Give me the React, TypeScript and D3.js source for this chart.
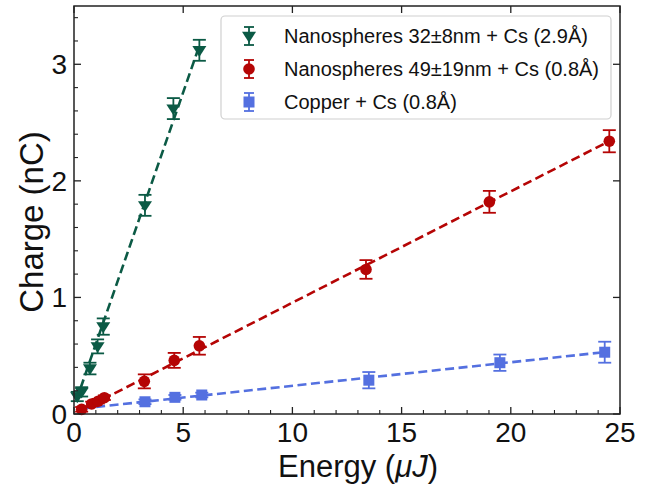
import React from "react";
import * as d3 from "d3";

const W = 667;
const H = 486;

// Series data (Energy µJ, Charge nC, error nC)
const greenX = [0.15, 0.35, 0.73, 1.08, 1.34, 3.25, 4.55, 5.74];
const greenY = [0.15, 0.19, 0.39, 0.58, 0.75, 1.79, 2.62, 3.12];
const greenE = [0.04, 0.04, 0.05, 0.06, 0.07, 0.09, 0.09, 0.09];

const redX = [0.35, 0.81, 1.11, 1.39, 3.22, 4.59, 5.74, 13.37, 19.02, 24.51];
const redY = [0.04, 0.086, 0.11, 0.14, 0.28, 0.46, 0.585, 1.24, 1.82, 2.34];
const redE = [0.02, 0.02, 0.02, 0.02, 0.06, 0.064, 0.076, 0.08, 0.094, 0.095];

const blueX = [3.25, 4.62, 5.85, 13.5, 19.5, 24.3];
const blueY = [0.105, 0.143, 0.163, 0.29, 0.44, 0.53];
const blueE = [0.02, 0.02, 0.02, 0.07, 0.07, 0.09];

// Linear fits: [slope, intercept, xStart, xEnd]
const greenFit = [0.54, 0.06, 0.1, 5.7];
const redFit = [0.0955, 0.0, 0.2, 24.5];
const blueFit = [0.0202, 0.04, 0.4, 24.3];

const xTicks = [0, 5, 10, 15, 20, 25];
const yTicks = [0, 1, 2, 3];

const legendLabels = [
  "Nanospheres 32\u00B18nm + Cs (2.9\u00C5)",
  "Nanospheres 49\u00B119nm + Cs (0.8\u00C5)",
  "Copper + Cs (0.8\u00C5)",
];

const GREEN = "#0b5a45";
const RED = "#b50505";
const BLUE = "#5470e0";
const FONT = "'Liberation Sans', Arial, Helvetica, sans-serif";

const L = 74, R = 620, T = 6, B = 414;

function Marker({ kind, cx, cy, color }: { kind: string; cx: number; cy: number; color: string }) {
  if (kind === "tri") {
    const s = 7;
    const p = `M${cx - s},${cy - s * 0.6} L${cx + s},${cy - s * 0.6} L${cx},${cy + s * 0.95} Z`;
    return <path d={p} fill={color} />;
  }
  if (kind === "circ") return <circle cx={cx} cy={cy} r={5.8} fill={color} />;
  return <rect x={cx - 5.5} y={cy - 5.5} width={11} height={11} fill={color} />;
}

export default function App() {
  const x = d3.scaleLinear().domain([0, 25]).range([L, R]);
  const y = d3.scaleLinear().domain([0, 3.5]).range([B, T]);

  const series = [
    { xs: greenX, ys: greenY, es: greenE, fit: greenFit, color: GREEN, kind: "tri" },
    { xs: redX, ys: redY, es: redE, fit: redFit, color: RED, kind: "circ" },
    { xs: blueX, ys: blueY, es: blueE, fit: blueFit, color: BLUE, kind: "sq" },
  ];

  const xMinor = d3.range(0, 26, 1).filter((v) => v % 5 !== 0);
  const yMinor = d3.range(0, 3.51, 0.2).filter((v) => Math.abs(v - Math.round(v)) > 0.01);

  const cap = 6.5;

  return (
    <svg
      width={W}
      height={H}
      style={{ position: "absolute", left: 0, top: 0, background: "#fff" }}
      fontFamily={FONT}
    >
      <rect x={0} y={0} width={W} height={H} fill="#fff" />
      {/* fit lines (drawn under points) */}
      {series.map((s, i) => {
        const [m, b, x0, x1] = s.fit;
        const pts: [number, number][] = [
          [x(x0), y(m * x0 + b)],
          [x(x1), y(m * x1 + b)],
        ];
        return (
          <path
            key={"fit" + i}
            d={d3.line()(pts) || ""}
            stroke={s.color}
            strokeWidth={2.6}
            strokeDasharray="9,4.5"
            fill="none"
          />
        );
      })}
      {/* error bars and markers */}
      {series.map((s, i) => (
        <g key={"s" + i}>
          {s.xs.map((xv, j) => {
            const cx = x(xv);
            const cy = y(s.ys[j]);
            const y1 = y(s.ys[j] + s.es[j]);
            const y2 = y(s.ys[j] - s.es[j]);
            return (
              <g key={j}>
                <line x1={cx} x2={cx} y1={y1} y2={y2} stroke={s.color} strokeWidth={1.8} />
                <line x1={cx - cap} x2={cx + cap} y1={y1} y2={y1} stroke={s.color} strokeWidth={1.8} />
                <line x1={cx - cap} x2={cx + cap} y1={y2} y2={y2} stroke={s.color} strokeWidth={1.8} />
                <Marker kind={s.kind} cx={cx} cy={cy} color={s.color} />
              </g>
            );
          })}
        </g>
      ))}

      {/* spines */}
      <rect x={L} y={T} width={R - L} height={B - T} fill="none" stroke="#222" strokeWidth={1.5} />

      {/* x ticks */}
      {xTicks.map((t) => (
        <g key={"xt" + t}>
          <line x1={x(t)} x2={x(t)} y1={B} y2={B - 7} stroke="#222" strokeWidth={1.3} />
          <line x1={x(t)} x2={x(t)} y1={T} y2={T + 7} stroke="#222" strokeWidth={1.3} />
          <text x={x(t)} y={B + 28} fontSize={28} textAnchor="middle" fill="#111">
            {t}
          </text>
        </g>
      ))}
      {xMinor.map((t) => (
        <line key={"xm" + t} x1={x(t)} x2={x(t)} y1={B} y2={B - 4} stroke="#222" strokeWidth={1.1} />
      ))}
      {/* y ticks */}
      {yTicks.map((t) => (
        <g key={"yt" + t}>
          <line x1={L} x2={L + 7} y1={y(t)} y2={y(t)} stroke="#222" strokeWidth={1.3} />
          <line x1={R} x2={R - 7} y1={y(t)} y2={y(t)} stroke="#222" strokeWidth={1.3} />
          <text x={L - 7} y={y(t) + 10} fontSize={28} textAnchor="end" fill="#111">
            {t}
          </text>
        </g>
      ))}
      {yMinor.map((t) => (
        <line key={"ym" + t} x1={L} x2={L + 4} y1={y(t)} y2={y(t)} stroke="#222" strokeWidth={1.1} />
      ))}

      {/* axis labels */}
      <text x={358} y={477} fontSize={31} textAnchor="middle" fill="#111">
        Energy (<tspan fontStyle="italic">{"\u03BCJ"}</tspan>)
      </text>
      <text
        transform={`translate(43, ${(T + B) / 2 + 12}) rotate(-90)`}
        fontSize={33}
        textAnchor="middle"
        fill="#111"
      >
        Charge (nC)
      </text>

      {/* legend */}
      <rect x={221} y={16} width={390} height={103} rx={4} fill="#fff" stroke="#d0d0d0" strokeWidth={1.2} />
      {series.map((s, i) => {
        const ly = 36 + i * 33;
        const lx = 249;
        return (
          <g key={"lg" + i}>
            <line x1={lx} x2={lx} y1={ly - 9} y2={ly + 9} stroke={s.color} strokeWidth={1.8} />
            <line x1={lx - 5} x2={lx + 5} y1={ly - 9} y2={ly - 9} stroke={s.color} strokeWidth={1.8} />
            <line x1={lx - 5} x2={lx + 5} y1={ly + 9} y2={ly + 9} stroke={s.color} strokeWidth={1.8} />
            <Marker kind={s.kind} cx={lx} cy={ly} color={s.color} />
            <text x={284} y={ly + 7} fontSize={20} fill="#111">
              {legendLabels[i]}
            </text>
          </g>
        );
      })}
    </svg>
  );
}
